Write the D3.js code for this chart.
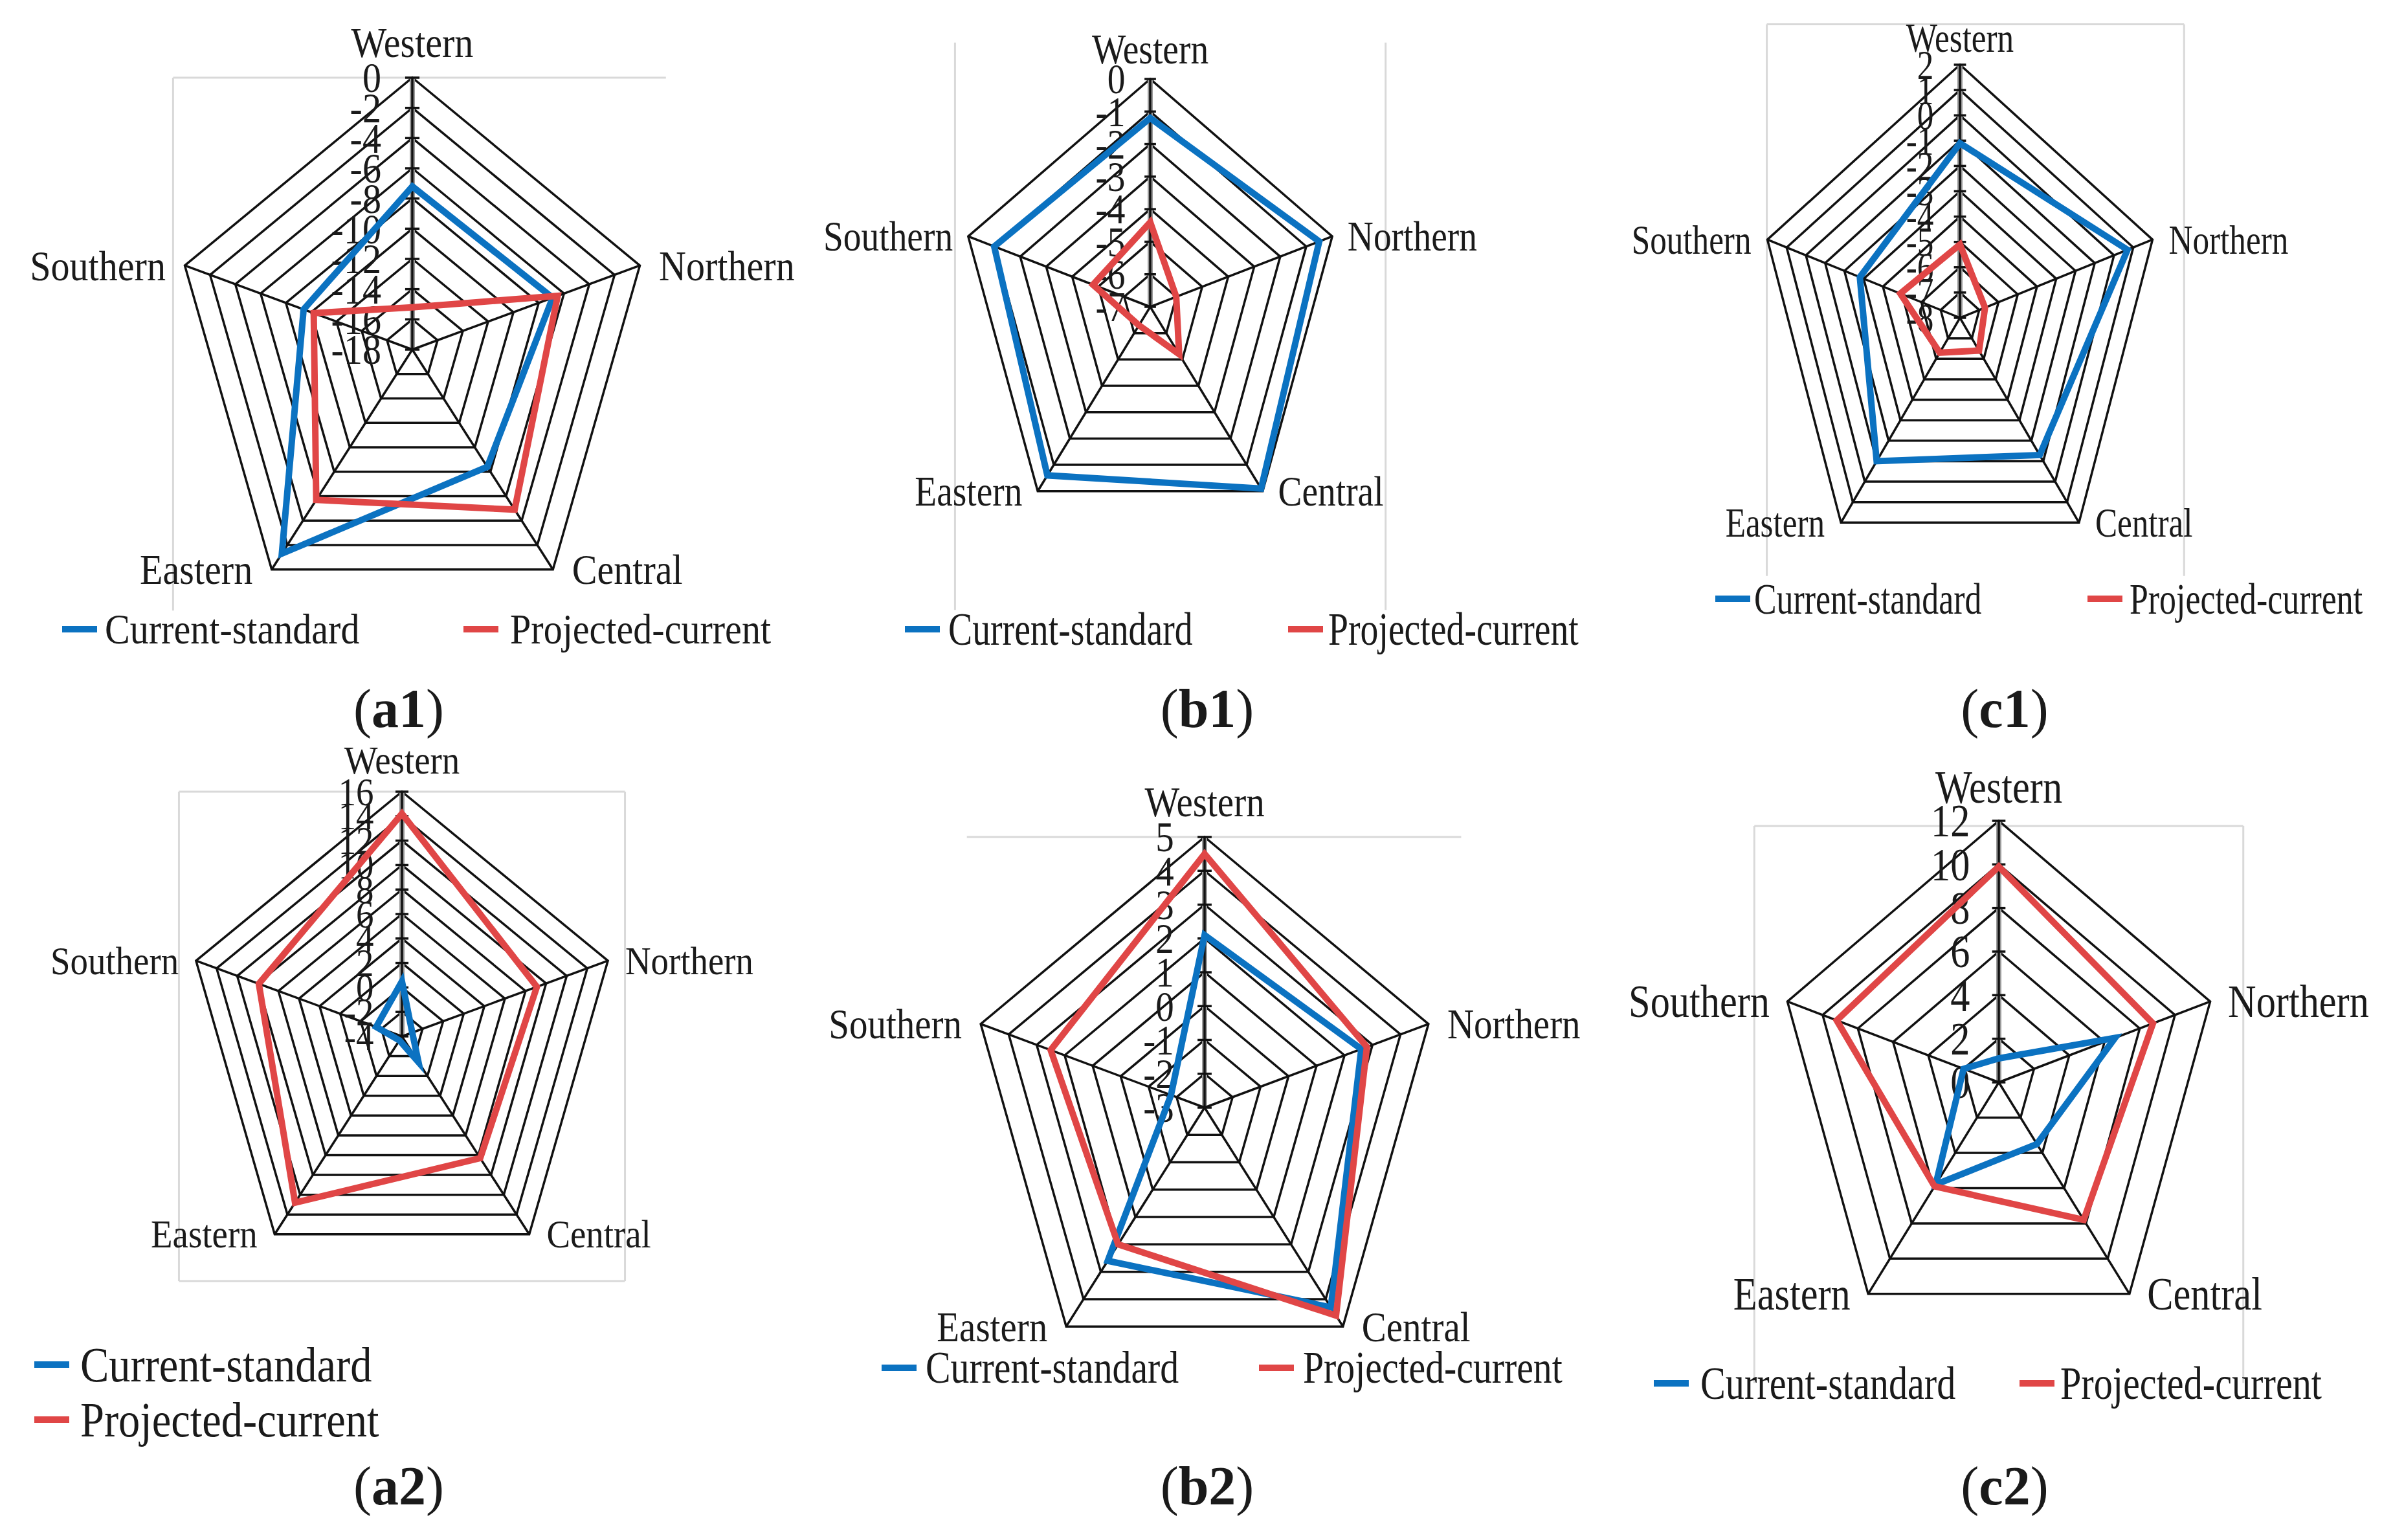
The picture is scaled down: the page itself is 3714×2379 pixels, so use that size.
<!DOCTYPE html>
<html>
<head>
<meta charset="utf-8">
<title>Radar charts</title>
<script src="https://d3js.org/d3.v7.min.js"></script>
<style>
  body { margin: 0; background: #fff; }
  text { font-family: "Liberation Serif", "Times New Roman", serif; fill: #1a1a1a; }
</style>
</head>
<body>
<script>
// categories and series
const regions = ["Western", "Northern", "Central", "Eastern", "Southern"];
const seriesNames = ["Current-standard", "Projected-current"];
const seriesColors = ["#0b72c1", "#e04646"];

// values, in region order
const a1Current   = [-7.2, -6.9, -8.4, -1.3, -9.4];
const a1Projected = [-15.2, -6.5, -4.9, -5.7, -10.2];
const b1Current   = [-1.2, -0.5, -0.1, -0.6, -1.0];
const b1Projected = [-4.4, -6.0, -5.2, -6.3, -4.8];
const c1Current   = [-1.1, 0.7, -1.3, -1.0, -2.8];
const c1Projected = [-5.1, -6.7, -6.4, -6.3, -4.9];
const a2Current   = [0.5, -3.0, -1.4, -3.6, -1.5];
const a2Projected = [14.2, 9.1, 8.3, 12.8, 9.9];
const b2Current   = [2.1, 2.6, 4.3, 2.6, -1.8];
const b2Projected = [4.5, 2.8, 4.6, 2.0, 2.5];
const c2Current   = [1.1, 6.6, 3.5, 5.8, 2.0];
const c2Projected = [9.9, 8.75, 7.8, 5.9, 9.2];

// value axis tick labels (outer ring first, centre last)
const a1Ticks = [0, -2, -4, -6, -8, -10, -12, -14, -16, -18];
const b1Ticks = [0, -1, -2, -3, -4, -5, -6, -7];
const c1Ticks = [2, 1, 0, -1, -2, -3, -4, -5, -6, -7, -8];
const a2Ticks = [16, 14, 12, 10, 8, 6, 4, 2, 0, -2, -4];
const b2Ticks = [5, 4, 3, 2, 1, 0, -1, -2, -3];
const c2Ticks = [12, 10, 8, 6, 4, 2, 0];

// layout of each panel (pixels); xs = horizontal squeeze of the original figure
const panels = [
  {cap: "a1", cx: 637, cy: 540, R: 420, xs: 0.88, font: 66, ticks: a1Ticks, data: [a1Current, a1Projected],
   legend: [{x: 96, tx: 162, y: 972}, {x: 716, tx: 788, y: 972}], legendFont: 66, legXs: 0.88,
   frame: [[-1.0, -1, 1.06, -1], [-1.0, -1, -1.0, 0.96]], capX: 616, capY: 1094, westGap: 0.13},
  {cap: "b1", cx: 1777, cy: 474, R: 352, xs: 0.84, font: 66, ticks: b1Ticks, data: [b1Current, b1Projected],
   legend: [{x: 1398, tx: 1465, y: 972}, {x: 1990, tx: 2052, y: 972}], legendFont: 72, legXs: 0.774,
   frame: [[-1.02, -1.16, -1.02, 1.33], [1.23, -1.16, 1.23, 1.33]], capX: 1865, capY: 1094, westGap: 0.13},
  {cap: "c1", cx: 3028, cy: 491, R: 391, xs: 0.80, font: 64, ticks: c1Ticks, data: [c1Current, c1Projected],
   legend: [{x: 2650, tx: 2710, y: 925}, {x: 3225, tx: 3290, y: 925}], legendFont: 68, legXs: 0.763,
   frame: [[-0.954, -1.16, 1.107, -1.16], [-0.954, -1.16, -0.954, 1.02], [1.107, -1.16, 1.107, 1.02]], capX: 3097, capY: 1094, westGap: 0.105},
  {cap: "a2", cx: 621, cy: 1601, R: 378, xs: 0.885, font: 62, ticks: a2Ticks, data: [a2Current, a2Projected],
   legend: [{x: 53, tx: 124, y: 2108}, {x: 53, tx: 124, y: 2193}], legendFont: 76, legXs: 0.875,
   frame: [[-1.03, -1, 1.03, -1], [1.03, -1, 1.03, 1], [1.03, 1, -1.03, 1], [-1.03, 1, -1.03, -1]], capX: 616, capY: 2295, westGap: 0.13},
  {cap: "b2", cx: 1861, cy: 1711, R: 418, xs: 0.87, font: 65.5, ticks: b2Ticks, data: [b2Current, b2Projected],
   legend: [{x: 1362, tx: 1430, y: 2113}, {x: 1945, tx: 2013, y: 2113}], legendFont: 70, legXs: 0.825,
   frame: [[-1.01, -1, 1.09, -1]], capX: 1865, capY: 2295, westGap: 0.13},
  {cap: "c2", cx: 3088, cy: 1672, R: 404, xs: 0.85, font: 71, ticks: c2Ticks, data: [c2Current, c2Projected],
   legend: [{x: 2555, tx: 2627, y: 2137}, {x: 3120, tx: 3183, y: 2137}], legendFont: 71, legXs: 0.82,
   frame: [[-1.10, -0.98, 1.10, -0.98], [-1.10, -0.98, -1.10, 1.15], [1.10, -0.98, 1.10, 1.15]], capX: 3097, capY: 2295, westGap: 0.13}
];

const W = 3714, H = 2379;
const svg = d3.select("body").append("svg")
    .attr("width", W)
    .attr("height", H)
    .style("background", "#fff");

const angle = d3.scalePoint()
    .domain(regions)
    .range([0, 2 * Math.PI * (regions.length - 1) / regions.length]);

panels.forEach(function(p) {
  const tmin = d3.min(p.ticks), tmax = d3.max(p.ticks);
  const r = d3.scaleLinear().domain([tmin, tmax]).range([0, p.R]);

  const g = svg.append("g")
      .attr("transform", `translate(${p.cx},${p.cy}) scale(${p.xs},1)`);

  // plot-area frame (light grey, partly cropped in the original)
  g.selectAll(".frame").data(p.frame).enter().append("line")
      .attr("x1", d => d[0] * p.R).attr("y1", d => d[1] * p.R)
      .attr("x2", d => d[2] * p.R).attr("y2", d => d[3] * p.R)
      .attr("stroke", "#d9d9d9").attr("stroke-width", 3)
      .attr("vector-effect", "non-scaling-stroke");

  // rings
  const ring = d3.lineRadial()
      .angle(d => angle(d))
      .curve(d3.curveLinearClosed);
  g.selectAll(".ring").data(p.ticks.filter(t => t !== tmin)).enter().append("path")
      .attr("d", t => ring.radius(r(t))(regions))
      .attr("fill", "none")
      .attr("stroke", "#111")
      .attr("stroke-width", 3.5)
      .attr("vector-effect", "non-scaling-stroke");

  // value axis underlay on the Western spoke
  g.append("line")
      .attr("x1", 0).attr("y1", 0).attr("x2", 0).attr("y2", -p.R)
      .attr("stroke", "#9a9a9a").attr("stroke-width", 8)
      .attr("vector-effect", "non-scaling-stroke");

  // spokes
  g.selectAll(".spoke").data(regions).enter().append("line")
      .attr("x1", 0).attr("y1", 0)
      .attr("x2", d => p.R * Math.sin(angle(d)))
      .attr("y2", d => -p.R * Math.cos(angle(d)))
      .attr("stroke", "#111")
      .attr("stroke-width", 3.5)
      .attr("vector-effect", "non-scaling-stroke");

  // tick marks across the value axis
  g.selectAll(".tick").data(p.ticks).enter().append("line")
      .attr("x1", -0.03 * p.R).attr("x2", 0.03 * p.R)
      .attr("y1", t => -r(t)).attr("y2", t => -r(t))
      .attr("stroke", "#111").attr("stroke-width", 3.5)
      .attr("vector-effect", "non-scaling-stroke");

  // tick labels
  g.selectAll(".tlab").data(p.ticks).enter().append("text")
      .attr("x", -0.13 * p.R)
      .attr("y", t => -r(t))
      .attr("text-anchor", "end")
      .attr("dominant-baseline", "central")
      .style("font-size", p.font + "px")
      .text(t => t);

  // series
  p.data.forEach(function(vals, si) {
    const line = d3.lineRadial()
        .angle((d, i) => angle(regions[i]))
        .radius(d => r(d))
        .curve(d3.curveLinearClosed);
    g.append("path")
        .attr("d", line(vals))
        .attr("fill", "none")
        .attr("stroke", seriesColors[si])
        .attr("stroke-width", 10)
        .attr("stroke-linejoin", "miter")
        .attr("vector-effect", "non-scaling-stroke");
  });

  // category labels
  const gap = 0.08 * p.R;
  g.selectAll(".cat").data(regions).enter().append("text")
      .attr("x", d => {
        const a = angle(d), x = p.R * Math.sin(a);
        if (Math.abs(x) < 1) return 0;
        return x > 0 ? x + gap : x - gap;
      })
      .attr("y", d => {
        const a = angle(d), y = -p.R * Math.cos(a);
        return Math.abs(a) < 1e-6 ? y - p.westGap * p.R : y;
      })
      .attr("text-anchor", d => {
        const x = Math.sin(angle(d));
        return Math.abs(x) < 1e-3 ? "middle" : (x > 0 ? "start" : "end");
      })
      .attr("dominant-baseline", "central")
      .style("font-size", p.font + "px")
      .text(d => d);

  // legend
  p.legend.forEach(function(L, si) {
    svg.append("line")
        .attr("x1", L.x).attr("x2", L.x + 54)
        .attr("y1", L.y).attr("y2", L.y)
        .attr("stroke", seriesColors[si])
        .attr("stroke-width", 10);
    svg.append("text")
        .attr("transform", `translate(${L.tx},${L.y}) scale(${p.legXs},1)`)
        .attr("dominant-baseline", "central")
        .style("font-size", p.legendFont + "px")
        .text(seriesNames[si]);
  });

  // caption "(a1)" with bold panel id
  const cap = svg.append("text")
      .attr("x", p.capX).attr("y", p.capY)
      .attr("text-anchor", "middle")
      .attr("dominant-baseline", "central")
      .style("font-size", "84px");
  cap.append("tspan").text("(");
  cap.append("tspan").style("font-weight", "bold").text(p.cap);
  cap.append("tspan").text(")");
});
</script>
</body>
</html>
